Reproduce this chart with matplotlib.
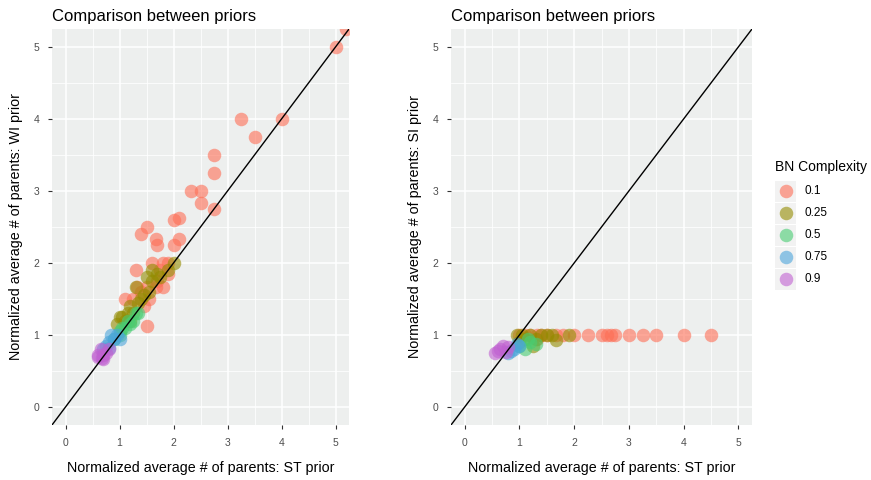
import numpy as np
import matplotlib.pyplot as plt
from matplotlib.patches import Rectangle

plt.rcParams['font.family'] = ['Liberation Sans', 'DejaVu Sans']

# Data: normalized average number of parents per BN complexity level
levels = ['0.1', '0.25', '0.5', '0.75', '0.9']
colors = ['#FE6E55', '#938C00', '#48CD73', '#4BA5DB', '#C061D1']

# left panel: ST prior (x) vs WI prior (y)
st_wi_x = {
    '0.1': [5.0, 5.2, 4.0, 3.25, 3.5, 2.75, 2.75, 2.33, 2.5, 2.5, 2.75, 1.5, 1.4, 2.0, 2.1,
            2.1, 1.67, 1.7, 2.0, 1.6, 1.8, 1.9, 1.3, 1.75, 1.8, 1.5, 1.67, 1.1, 1.5, 1.33,
            1.4, 1.25, 1.9, 1.7, 1.55, 1.45],
    '0.25': [0.95, 1.0, 1.1, 1.2, 1.3, 1.5, 1.6, 1.9, 2.0, 1.4, 1.2, 1.6, 1.35, 1.45,
             1.25, 1.55, 1.7, 1.05, 1.15, 1.75],
    '0.5': [1.0, 1.1, 1.2, 1.3, 1.0, 0.9, 1.15, 1.25, 1.05, 1.35],
    '0.75': [0.75, 0.8, 0.9, 1.0, 0.85, 0.95, 0.8, 0.7],
    '0.9': [0.6, 0.7, 0.65, 0.75, 0.7, 0.8, 0.6, 0.67],
}
st_wi_y = {
    '0.1': [5.0, 5.25, 4.0, 4.0, 3.75, 3.5, 3.25, 3.0, 3.0, 2.83, 2.75, 2.5, 2.4, 2.6, 2.63,
            2.33, 2.33, 2.25, 2.25, 2.0, 2.0, 2.0, 1.9, 1.9, 1.67, 1.67, 1.67, 1.5, 1.13, 1.67,
            1.6, 1.5, 1.85, 1.75, 1.5, 1.4],
    '0.25': [1.15, 1.25, 1.2, 1.4, 1.67, 1.8, 1.9, 1.9, 2.0, 1.5, 1.2, 1.75, 1.45, 1.55,
             1.3, 1.6, 1.85, 1.25, 1.3, 1.8],
    '0.5': [1.0, 1.1, 1.15, 1.3, 1.05, 0.95, 1.2, 1.2, 1.1, 1.3],
    '0.75': [0.85, 0.9, 0.95, 0.95, 1.0, 1.0, 0.82, 0.8],
    '0.9': [0.7, 0.67, 0.8, 0.75, 0.72, 0.8, 0.72, 0.68],
}

# right panel: ST prior (x) vs SI prior (y)
st_si_x = {
    '0.1': [1.0, 1.1, 1.2, 1.33, 1.5, 1.67, 2.0, 2.25, 2.5, 2.67, 2.75, 3.0, 3.25, 3.5,
            4.0, 4.5, 1.33, 1.4, 1.8, 2.6],
    '0.25': [0.95, 1.05, 1.2, 1.4, 1.6, 1.9, 1.0, 1.25, 1.67, 1.5, 1.3, 1.1],
    '0.5': [1.1, 1.2, 1.3, 1.0, 1.15],
    '0.75': [0.8, 0.9, 1.0, 0.85, 0.95],
    '0.9': [0.55, 0.65, 0.7, 0.8, 0.6, 0.75],
}
st_si_y = {
    '0.1': [1.0, 1.0, 1.0, 1.0, 1.0, 1.0, 1.0, 1.0, 1.0, 1.0, 1.0, 1.0, 1.0, 1.0,
            1.0, 1.0, 0.95, 1.0, 1.0, 1.0],
    '0.25': [1.0, 1.0, 1.0, 1.0, 1.0, 1.0, 0.9, 0.85, 0.93, 1.0, 0.95, 0.95],
    '0.5': [0.8, 0.9, 0.88, 0.85, 0.95],
    '0.75': [0.75, 0.8, 0.85, 0.78, 0.88],
    '0.9': [0.75, 0.8, 0.85, 0.83, 0.78, 0.77],
}

fig = plt.figure(figsize=(8.71, 4.8), dpi=100)
ax1 = fig.add_axes([52 / 871, 55 / 480, 297 / 871, 396 / 480])
ax2 = fig.add_axes([451 / 871, 55 / 480, 301 / 871, 396 / 480])


def draw_panel(ax, xs, ys, ylabel):
    ax.set_facecolor('#EDEFEE')
    for lv, c in zip(levels, colors):
        ax.scatter(xs[lv], ys[lv], s=95, color=c, alpha=0.6, linewidths=0, zorder=3)
    ax.plot([-1, 6], [-1, 6], color='black', linewidth=1, zorder=4)
    ax.set_xlim(-0.25, 5.25)
    ax.set_ylim(-0.25, 5.25)
    ax.set_xticks(range(6))
    ax.set_yticks(range(6))
    ax.set_xticks(np.arange(0.5, 5.5, 1), minor=True)
    ax.set_yticks(np.arange(0.5, 5.5, 1), minor=True)
    ax.grid(which='major', color='white', linewidth=1.1, zorder=0)
    ax.grid(which='minor', color='white', linewidth=0.55, zorder=0)
    ax.set_axisbelow(True)
    for s in ax.spines.values():
        s.set_visible(False)
    ax.tick_params(which='major', length=3, width=0.8, color='#333333',
                   labelsize=7.5, labelcolor='#4D4D4D', pad=6)
    ax.tick_params(which='minor', length=0)
    ax.set_xlabel('Normalized average # of parents: ST prior', fontsize=10.3, labelpad=10)
    ax.set_ylabel(ylabel, fontsize=10.3, labelpad=8)
    ax.set_title('Comparison between priors', fontsize=12, loc='left', pad=6)


draw_panel(ax1, st_wi_x, st_wi_y, 'Normalized average # of parents: WI prior')
draw_panel(ax2, st_si_x, st_si_y, 'Normalized average # of parents: SI prior')

# legend drawn in its own axes (figure pixel coordinates)
axl = fig.add_axes([0, 0, 1, 1], facecolor='none')
axl.set_xlim(0, 871)
axl.set_ylim(480, 0)
axl.axis('off')
axl.text(775, 167, 'BN Complexity', fontsize=10, va='center', ha='left')
for i, (lv, c) in enumerate(zip(levels, colors)):
    yy = 191 + i * 22
    axl.add_patch(Rectangle((775, yy - 10.5), 21, 21, facecolor='#F2F2F2', edgecolor='none'))
    axl.scatter([785.5], [yy], s=95, color=c, alpha=0.6, linewidths=0)
    axl.text(804, yy, lv, fontsize=8.5, va='center', ha='left')

fig.savefig('out.png', dpi=100)
